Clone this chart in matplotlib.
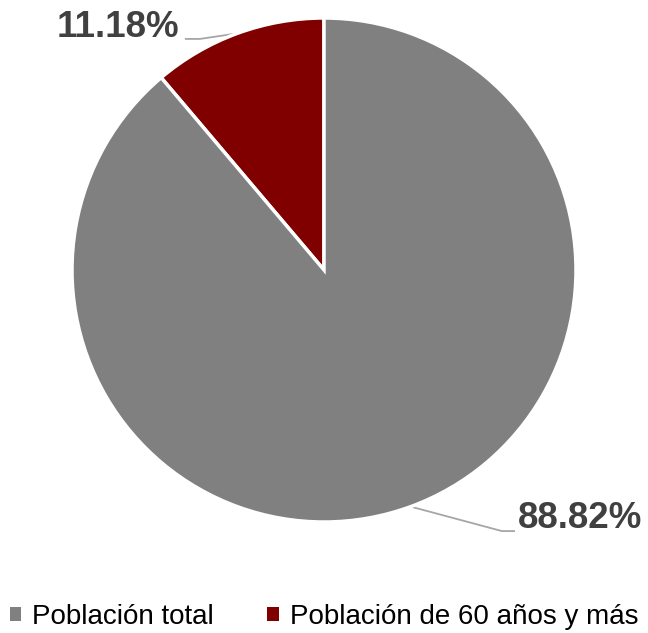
import numpy as np
import matplotlib.pyplot as plt
from matplotlib.patches import Patch

# datos
categorias = ['Población total', 'Población de 60 años y más']
valores = [88.82, 11.18]
colores = ['#808080', '#800000']

plt.rcParams['font.family'] = ['Liberation Sans', 'DejaVu Sans']

fig = plt.figure(figsize=(6.48, 6.33), dpi=100)
ax = fig.add_axes([72 / 648, 111 / 633, 504 / 648, 504 / 633])

# el rojo arranca arriba en sentido antihorario, el gris sigue
wedges, _ = ax.pie(valores[::-1], colors=colores[::-1], startangle=90,
                   counterclock=True, radius=1,
                   wedgeprops=dict(edgecolor='white', linewidth=2.5))
wedges = wedges[::-1]

# etiquetas con líneas guía: (codo_x, fin_x, linea_y, texto_x, texto_y, ha)
guias = [
    (0.706, 0.758, -1.036, 0.768, -0.988, 'left'),
    (-0.492, -0.552, 0.917, -0.575, 0.962, 'right'),
]
for w, v, (kx, ex, ly, tx, ty, ha) in zip(wedges, valores, guias):
    ang = np.deg2rad((w.theta1 + w.theta2) / 2)
    x0, y0 = np.cos(ang), np.sin(ang)
    ax.plot([x0, kx, ex], [y0, ly, ly], color='#a6a6a6', lw=1.3,
            solid_capstyle='butt', clip_on=False, zorder=0)
    ax.text(tx, ty, f'{v:.2f}%', ha=ha, va='center', fontsize=26.5,
            fontweight='bold', color='#404040')

ax.set_xlim(-1, 1)
ax.set_ylim(-1, 1)
ax.set_aspect('equal')
ax.axis('off')

handles = [Patch(facecolor=c, edgecolor='none') for c in colores]
fig.legend(handles, categorias, loc='center', bbox_to_anchor=(0.5, 1 - 617 / 633),
           ncol=2, frameon=False, fontsize=20, handlelength=0.42,
           handleheight=0.42, handletextpad=0.4, columnspacing=1.9,
           borderpad=0, borderaxespad=0)

fig.savefig('out.png', dpi=100, facecolor='white')
